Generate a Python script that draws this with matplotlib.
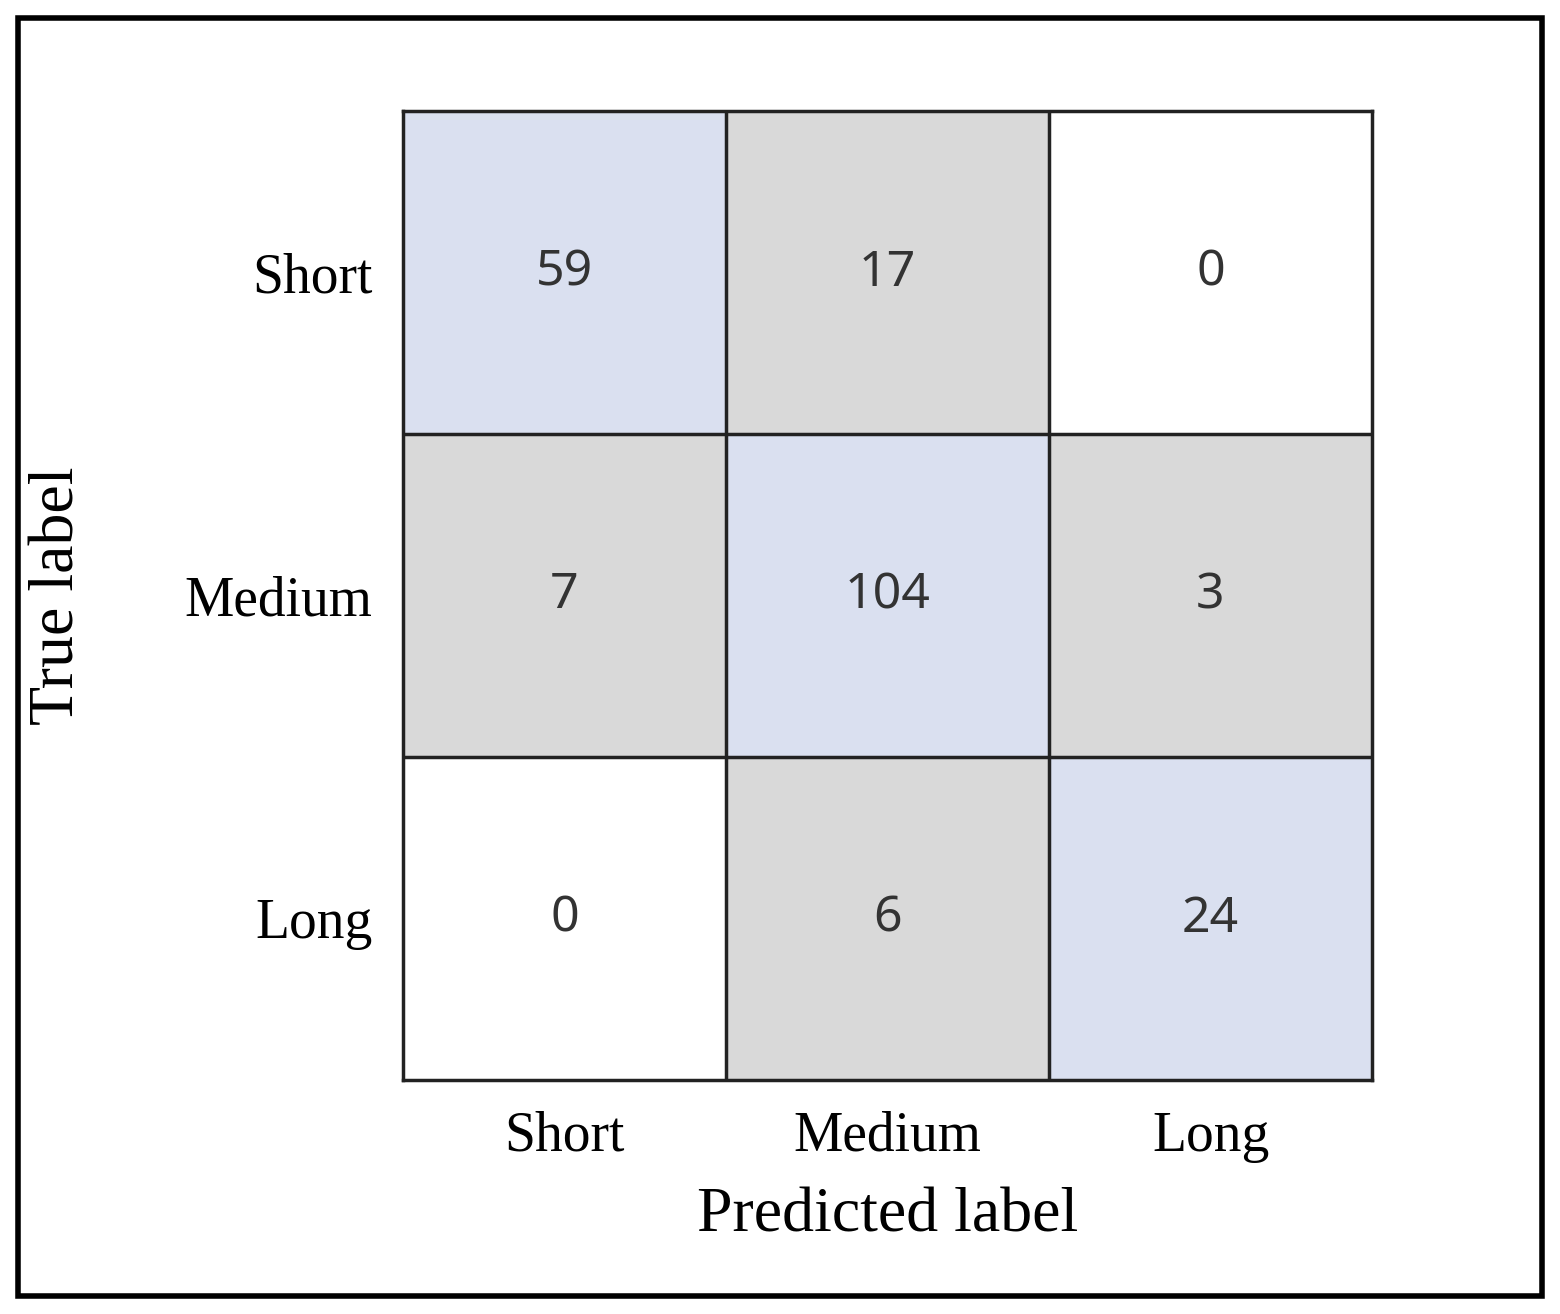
import numpy as np
import matplotlib.pyplot as plt
from matplotlib.patches import Rectangle

classes = ["Short", "Medium", "Long"]
cm = np.array([[59, 17, 0],
               [7, 104, 3],
               [0, 6, 24]])

blue = np.array([0xda, 0xe0, 0xf0]) / 255
gray = np.array([0xd9, 0xd9, 0xd9]) / 255
white = np.array([1.0, 1.0, 1.0])

img = np.zeros((3, 3, 3))
for i in range(3):
    for j in range(3):
        if i == j:
            img[i, j] = blue
        elif cm[i, j] == 0:
            img[i, j] = white
        else:
            img[i, j] = gray

fig = plt.figure(figsize=(15.6, 13.14), dpi=100)
ax = fig.add_axes([403/1560, 1 - 1080/1314, 969/1560, 969/1314])
ax.imshow(img, extent=(-0.5, 2.5, 2.5, -0.5), aspect="auto")
for k in [0.5, 1.5]:
    ax.axvline(k, color="#222222", lw=2.5)
    ax.axhline(k, color="#222222", lw=2.5)
for s in ax.spines.values():
    s.set_linewidth(2.5)
    s.set_color("#222222")

for i in range(3):
    for j in range(3):
        ax.text(j, i, str(cm[i, j]), ha="center", va="center",
                fontsize=36, family="Noto Sans", color="#333333")

serif = "Liberation Serif"
ax.set_xticks(range(3))
ax.set_yticks(range(3))
ax.set_xticklabels(classes, fontsize=40, family=serif)
ax.set_yticklabels(classes, fontsize=40, family=serif)
ax.tick_params(length=0, pad=22)
ax.set_xlabel("Predicted label", fontsize=46, family=serif, labelpad=18)
ax.set_ylabel("True label", fontsize=46, family=serif, labelpad=70)

fig.patches.append(Rectangle((18/1560, 18/1314), 1524/1560, 1278/1314,
                             transform=fig.transFigure, fill=False,
                             lw=4, edgecolor="black"))
fig.savefig("out.png", dpi=100)
